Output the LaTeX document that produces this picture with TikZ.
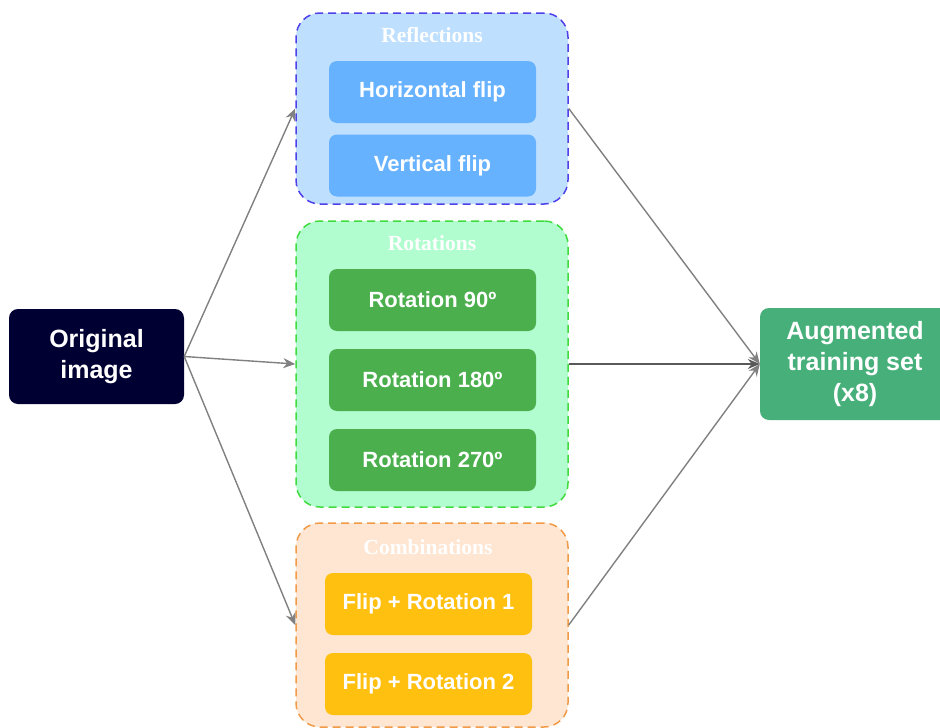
\documentclass[tikz,border=0pt]{standalone}
\usepackage{fontspec}
\setmainfont{Liberation Sans}
\newfontfamily\titlefont{Liberation Serif}
\usetikzlibrary{arrows.meta}
\definecolor{reflfill}{HTML}{BFDFFE}
\definecolor{refldraw}{HTML}{5040E8}
\definecolor{flipbox}{HTML}{66B2FF}
\definecolor{rotfill}{HTML}{B2FDD0}
\definecolor{rotdraw}{HTML}{3FDB3F}
\definecolor{rotbox}{HTML}{4AAF4C}
\definecolor{combfill}{HTML}{FEE6D2}
\definecolor{combdraw}{HTML}{F19A47}
\definecolor{combbox}{HTML}{FFC010}
\definecolor{orignavy}{HTML}{000033}
\definecolor{augfill}{HTML}{47B07A}
\definecolor{arrowgray}{HTML}{808080}
\tikzset{
  container/.style={rounded corners=24pt, line width=1.5pt, dash pattern=on 8pt off 5pt, inner sep=0pt},
  innerbox/.style={rounded corners=8pt, minimum width=207pt, minimum height=62pt, inner sep=0pt,
    text=white, font=\fontsize{22}{26}\selectfont\bfseries},
  grouptitle/.style={text=white, font=\titlefont\fontsize{21.5}{25}\selectfont\bfseries, inner sep=0pt},
  endbox/.style={rounded corners=9pt, inner sep=0pt, align=center, text=white,
    font=\fontsize{25}{31}\selectfont\bfseries},
  link/.style={draw=arrowgray, line width=1.4pt, -{Stealth[length=12pt,width=10pt]}}
}
\begin{document}
\begin{tikzpicture}[x=1pt,y=-1pt]
\useasboundingbox (0,0) rectangle (940,728);
% containers
\node[container, draw=refldraw, fill=reflfill, minimum width=272pt, minimum height=191pt] (refl) at (432,108.5) {};
\node[container, draw=rotdraw, fill=rotfill, minimum width=272pt, minimum height=286pt] (rot) at (432,364) {};
\node[container, draw=combdraw, fill=combfill, minimum width=272pt, minimum height=204pt] (comb) at (432,625) {};
% titles
\node[grouptitle] (tRefl) at (432,35) {Reflections};
\node[grouptitle] (tRot) at (432,243) {Rotations};
\node[grouptitle] (tComb) at (428,547) {Combinations};
% inner boxes
\node[innerbox, fill=flipbox] (hflip) at (432.5,92) {Horizontal flip};
\node[innerbox, fill=flipbox] (vflip) at (432.5,165.5) {Vertical flip};
\node[innerbox, fill=rotbox] (r90) at (432.5,300) {Rotation 90º};
\node[innerbox, fill=rotbox] (r180) at (432.5,380) {Rotation 180º};
\node[innerbox, fill=rotbox] (r270) at (432.5,460) {Rotation 270º};
\node[innerbox, fill=combbox] (fr1) at (428.5,604) {Flip + Rotation 1};
\node[innerbox, fill=combbox] (fr2) at (428.5,684) {Flip + Rotation 2};
% end nodes
\node[endbox, fill=orignavy, minimum width=175pt, minimum height=95pt] (orig) at (96.5,356.5) {Original\\image};
\node[endbox, fill=augfill, minimum width=190pt, minimum height=112pt] (aug) at (855,364) {Augmented\\training set\\(x8)};
% connectors
\draw[link] (orig.east) -- (refl.west);
\draw[link] (orig.east) -- (rot.west);
\draw[link] (orig.east) -- (comb.west);
\draw[link] (refl.east) -- (aug.west);
\draw[link, draw=black!65] (rot.east) -- (aug.west);
\draw[link] (comb.east) -- (aug.west);
\end{tikzpicture}
\end{document}
